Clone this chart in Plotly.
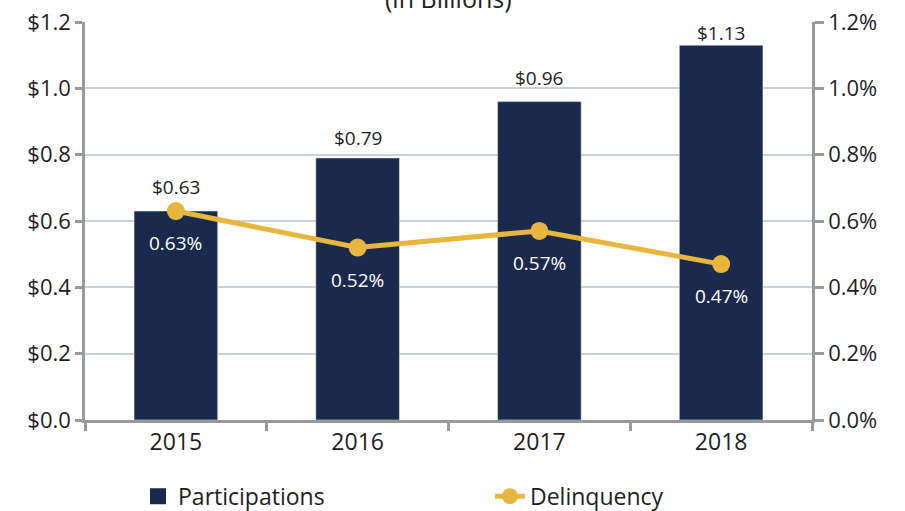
import plotly.graph_objects as go

years = ["2015", "2016", "2017", "2018"]
participations = [0.63, 0.79, 0.96, 1.13]
delinquency = [0.0063, 0.0052, 0.0057, 0.0047]

NAVY = "#1a2a4d"
GOLD = "#e8b63e"
FONT = "Open Sans"
TXT = "#1e1e1e"

fig = go.Figure()
fig.add_trace(go.Bar(
    x=years, y=participations, name="Participations",
    marker=dict(color=NAVY), width=0.46, showlegend=False,
))
# legend proxy with a large square swatch
fig.add_trace(go.Scatter(
    x=[None], y=[None], name="Participations", mode="markers",
    marker=dict(color=NAVY, symbol="square", size=20),
))
fig.add_trace(go.Scatter(
    x=years, y=delinquency, name="Delinquency", yaxis="y2",
    mode="lines+markers",
    line=dict(color=GOLD, width=5),
    marker=dict(color=GOLD, size=18),
))

bar_label_shift = [24, 20, 24, 12]
for i, (v, s) in enumerate(zip(participations, bar_label_shift)):
    fig.add_annotation(x=i, y=v, xref="x", yref="y", text=f"${v:.2f}",
                       showarrow=False, yanchor="middle", yshift=s,
                       font=dict(family=FONT, size=19, color=TXT))
for i, v in enumerate(delinquency):
    fig.add_annotation(x=i, y=v, xref="x", yref="y2", text=f"{v*100:.2f}%",
                       showarrow=False, yanchor="middle", yshift=-32,
                       font=dict(family=FONT, size=19, color="white"))

fig.add_annotation(text="(in Billions)", xref="paper", yref="paper", x=0.5, y=1.06,
                   xanchor="center", yanchor="middle", showarrow=False,
                   font=dict(family=FONT, size=25, color=TXT))

fig.update_layout(
    width=905, height=511,
    margin=dict(l=85, r=93, t=22, b=91),
    plot_bgcolor="white", paper_bgcolor="white",
    font=dict(family=FONT, size=20, color=TXT),
    showlegend=True,
    legend=dict(orientation="h", xref="container", x=0.1525, xanchor="left",
                yref="container", y=0.029, yanchor="middle",
                font=dict(family=FONT, size=23, color=TXT),
                entrywidth=307, entrywidthmode="pixels"),
    xaxis=dict(type="category", range=[-0.5, 3.5], tickson="boundaries", ticks="outside", ticklen=8,
               tickcolor="#999", tickwidth=2.5, showline=True, linecolor="#999", linewidth=2.5,
               tickfont=dict(size=23), automargin=False),
    yaxis=dict(range=[0, 1.2], dtick=0.2, tickformat="$.1f", ticks="outside", ticklen=7,
               tickcolor="#999", tickwidth=2.5, showline=True, linecolor="#999", linewidth=2.5,
               gridcolor="#c8d0d8", gridwidth=1.5, zeroline=False, tickfont=dict(size=22),
               automargin=False),
    yaxis2=dict(range=[0, 0.012], dtick=0.002, tickformat=".1%", overlaying="y", side="right",
                ticks="outside", ticklen=9, tickcolor="#999", tickwidth=2.5, showline=True,
                linecolor="#999", linewidth=2.5, showgrid=False, zeroline=False,
                tickfont=dict(size=22), automargin=False),
)

fig.write_html("out.html", config={"displayModeBar": False},
               post_script="document.body.style.margin='0';")
